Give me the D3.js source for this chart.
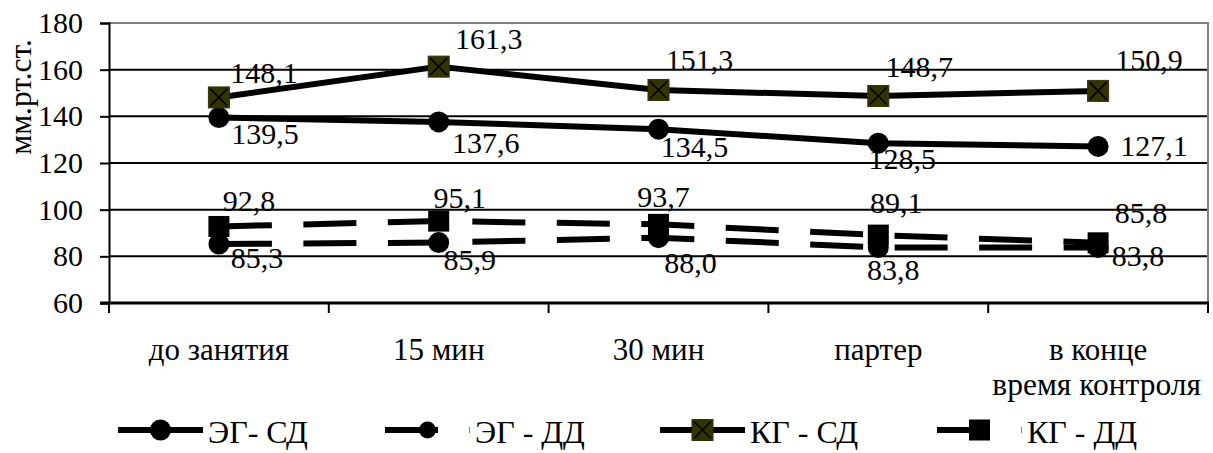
<!DOCTYPE html>
<html>
<head>
<meta charset="utf-8">
<script src="https://cdn.jsdelivr.net/npm/d3@7"></script>
<style>
  html, body { margin: 0; padding: 0; background: #fff; }
  svg { display: block; }
  svg text { font-family: "Liberation Serif", "Times New Roman", serif; fill: #000; }
</style>
</head>
<body>
<svg id="chart" width="1213" height="453"></svg>
<script>
// Blood pressure by time of measurement (mm Hg)
const categories = ["до занятия", "15 мин", "30 мин", "партер", "в конце"];
const egSd = [139.5, 137.6, 134.5, 128.5, 127.1];
const egDd = [85.3, 85.9, 88.0, 83.8, 83.8];
const kgSd = [148.1, 161.3, 151.3, 148.7, 150.9];
const kgDd = [92.8, 95.1, 93.7, 89.1, 85.8];
const seriesNames = ["ЭГ- СД", "ЭГ - ДД", "КГ - СД", "КГ - ДД"];
const yTicks = [60, 80, 100, 120, 140, 160, 180];
const yTitle = "мм.рт.ст.";
const xTitle = "время контроля";

// Layout
const W = 1213, H = 453;
const plot = { left: 109, right: 1208, top: 23, bottom: 303 };
const tickFont = 30, labelFont = 30, catFont = 31, titleFont = 31.5, legendFont = 32;
const lineW = 6;
const dash = "53 31.5";
const olive = "#333300";

// Hand-placed label offsets (centre x, baseline y) relative to each point
const labelNudge = {
  egSd: [[46, 26], [47, 31], [36, 28], [24, 26], [56, 10]],
  egDd: [[38, 24], [31, 27], [32, 35], [15, 33], [40, 19]],
  kgSd: [[45, -14], [50, -18], [41, -20], [41, -19], [51, -21]],
  kgDd: [[30, -15], [21, -13], [5, -17], [18, -22], [43, -20]]
};

const series = [
  { key: "egSd", name: seriesNames[0], values: egSd, dashed: false, marker: "circle" },
  { key: "egDd", name: seriesNames[1], values: egDd, dashed: true, marker: "circle" },
  { key: "kgSd", name: seriesNames[2], values: kgSd, dashed: false, marker: "xsquare" },
  { key: "kgDd", name: seriesNames[3], values: kgDd, dashed: true, marker: "square" }
];

const svg = d3.select("#chart");
svg.append("rect").attr("width", W).attr("height", H).attr("fill", "#fff");

const x = d3.scaleBand().domain(categories).range([plot.left, plot.right]).padding(0);
const y = d3.scaleLinear().domain([60, 180]).range([plot.bottom, plot.top]);
const cx = c => x(c) + x.bandwidth() / 2;

// Gridlines
svg.append("g").selectAll("line")
  .data(yTicks.filter(t => t > 60 && t < 180))
  .join("line")
  .attr("x1", plot.left).attr("x2", plot.right)
  .attr("y1", d => y(d)).attr("y2", d => y(d))
  .attr("stroke", "#000").attr("stroke-width", 2);

// Plot-area border (top and right)
svg.append("path")
  .attr("d", `M${plot.left},${y(180)}H${plot.right}V${plot.bottom}`)
  .attr("fill", "none").attr("stroke", "#808080").attr("stroke-width", 2);

// Y axis
const yAxis = svg.append("g")
  .attr("transform", `translate(${plot.left},0)`)
  .call(d3.axisLeft(y).tickValues(yTicks).tickSize(9).tickPadding(17).tickFormat(d3.format("d")));
yAxis.attr("font-size", tickFont).attr("font-family", null);
yAxis.select(".domain").attr("stroke", "#000").attr("stroke-width", 2);
yAxis.selectAll(".tick line").attr("stroke", "#000").attr("stroke-width", 2);

// X axis line and boundary ticks
const bounds = categories.map(c => x(c)).concat([x.range()[1]]);
svg.append("line")
  .attr("x1", plot.left - 9).attr("x2", plot.right + 1)
  .attr("y1", plot.bottom).attr("y2", plot.bottom)
  .attr("stroke", "#000").attr("stroke-width", 3);
svg.append("g").selectAll("line")
  .data(bounds).join("line")
  .attr("x1", d => d).attr("x2", d => d)
  .attr("y1", plot.bottom).attr("y2", plot.bottom + 10)
  .attr("stroke", "#000").attr("stroke-width", 2);

// Category labels
svg.append("g").attr("font-size", catFont)
  .selectAll("text")
  .data(categories).join("text")
  .attr("x", d => cx(d)).attr("y", 360)
  .attr("text-anchor", "middle")
  .text(d => d);

// Axis titles
svg.append("text")
  .attr("x", 1201).attr("y", 395)
  .attr("text-anchor", "end")
  .attr("font-size", titleFont)
  .text(xTitle);
svg.append("text")
  .attr("transform", `translate(31,97) rotate(-90)`)
  .attr("text-anchor", "middle")
  .attr("font-size", titleFont)
  .text(yTitle);

// Marker drawing helper
function drawMarker(g, type, px, py, size) {
  const r = size / 2;
  if (type === "circle") {
    g.append("circle").attr("cx", px).attr("cy", py).attr("r", r).attr("fill", "#000");
  } else if (type === "square") {
    g.append("rect").attr("x", px - r).attr("y", py - r).attr("width", size).attr("height", size).attr("fill", "#000");
  } else {
    g.append("rect").attr("x", px - r).attr("y", py - r).attr("width", size).attr("height", size)
      .attr("fill", olive).attr("stroke", olive).attr("stroke-width", 1);
    const k = r - 2;
    g.append("path")
      .attr("d", `M${px - k},${py - k}L${px + k},${py + k}M${px + k},${py - k}L${px - k},${py + k}`)
      .attr("stroke", "#000").attr("stroke-width", 1.6);
  }
}

// Series lines and markers
const line = d3.line().x((d, i) => cx(categories[i])).y(d => y(d));
series.forEach(s => {
  const g = svg.append("g");
  g.append("path")
    .attr("d", line(s.values))
    .attr("fill", "none")
    .attr("stroke", "#000")
    .attr("stroke-width", lineW)
    .attr("stroke-linejoin", "round")
    .attr("stroke-dasharray", s.dashed ? dash : null);
  s.values.forEach((v, i) => drawMarker(g, s.marker, cx(categories[i]), y(v), 21));
});

// Data labels
const labels = svg.append("g").attr("font-size", labelFont);
series.forEach(s => {
  labels.append("g").selectAll("text")
    .data(s.values).join("text")
    .attr("x", (d, i) => cx(categories[i]) + labelNudge[s.key][i][0])
    .attr("y", (d, i) => y(d) + labelNudge[s.key][i][1])
    .attr("text-anchor", "middle")
    .text(d => d3.format(".1f")(d).replace(".", ","));
});

// Legend
const legendX = [118, 385, 660, 937];
const legendY = 430;
const sampleLen = 85;
series.forEach((s, i) => {
  const g = svg.append("g").attr("transform", `translate(${legendX[i]},${legendY})`);
  g.append("line")
    .attr("x1", 0).attr("x2", sampleLen).attr("y1", 0).attr("y2", 0)
    .attr("stroke", "#000").attr("stroke-width", lineW)
    .attr("stroke-dasharray", s.dashed ? dash : null);
  drawMarker(g, s.marker, sampleLen / 2, 0, s.marker === "circle" && s.dashed ? 17 : 21);
  g.append("text")
    .attr("x", sampleLen + 5).attr("y", 13)
    .attr("font-size", legendFont)
    .text(s.name);
});
</script>
</body>
</html>
